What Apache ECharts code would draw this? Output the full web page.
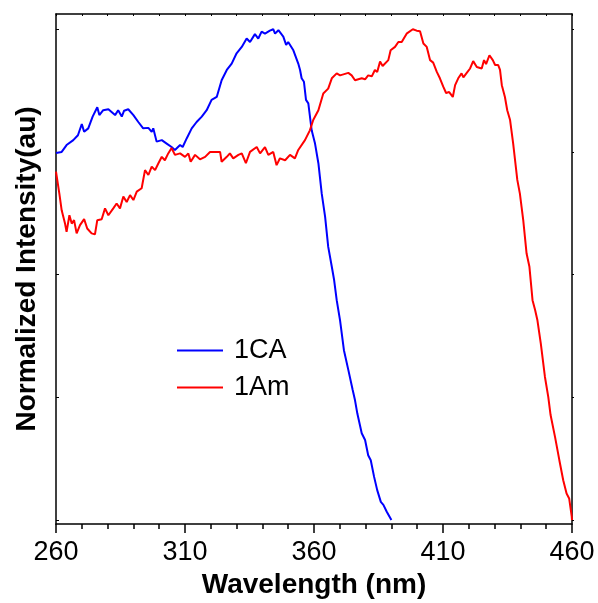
<!DOCTYPE html>
<html>
<head>
  <meta charset="utf-8" />
  <title>Normalized Intensity</title>
  <script src="https://cdn.jsdelivr.net/npm/echarts@6/dist/echarts.min.js"></script>
  <style>
    html, body { margin: 0; padding: 0; background: #fff; }
    #main { width: 598px; height: 603px; }
  </style>
</head>
<body>
<div id="main"></div>
<script>
  // wavelength (nm) / normalized intensity
  let wl1CA = [260, 262.2, 264.1, 266.7, 268.5, 270, 270.9, 272.5, 274.2, 276, 276.8, 278.3, 280.3, 282.9, 284.1, 285.5, 286.4, 288, 290, 291.9,
    293.8, 295.8, 297.1, 297.7, 299, 301, 302.9, 304.8, 306.1, 308.1, 309.1, 310.7, 312.6, 314.5, 316.5, 318.4, 320.3, 322.3, 324.2, 326.2,
    328.1, 330, 332, 333.9, 335.2, 337.1, 338.4, 339.7, 341, 342.9, 344.2, 344.9, 346.2, 348.1, 349.2, 350, 352, 353.9, 354.6, 355.2,
    356.1, 356.9, 357.8, 359.1, 360.4, 361.7, 363, 364.3, 365.5, 366.9, 367.8, 368.8, 370.1, 371.6, 373.3, 375, 375.9, 376.8, 378.5, 379.8,
    381, 382, 383.3, 384.5, 385.9, 386.9, 388.2, 390]
  let int1CA = [0.748, 0.750, 0.764, 0.774, 0.784, 0.807, 0.791, 0.798, 0.822, 0.841, 0.825, 0.835, 0.837, 0.825, 0.835, 0.822, 0.834, 0.837, 0.825, 0.811,
    0.798, 0.799, 0.791, 0.798, 0.771, 0.774, 0.767, 0.760, 0.754, 0.764, 0.760, 0.778, 0.798, 0.811, 0.822, 0.835, 0.856, 0.862, 0.896, 0.917,
    0.930, 0.951, 0.964, 0.981, 0.974, 0.990, 0.981, 0.995, 0.991, 0.997, 1.000, 0.991, 0.998, 0.985, 0.968, 0.974, 0.957, 0.930, 0.917, 0.900,
    0.893, 0.856, 0.849, 0.794, 0.767, 0.727, 0.665, 0.618, 0.557, 0.516, 0.489, 0.448, 0.407, 0.346, 0.306, 0.265, 0.244, 0.217, 0.177, 0.163,
    0.132, 0.122, 0.088, 0.061, 0.037, 0.031, 0.017, 0.0]

  let wl1Am = [260, 261.3, 262.2, 263.5, 264.1, 265.2, 266.1, 267, 268, 269.3, 270.9, 272.1, 273.8, 275.1, 276, 277.7, 279, 280.3, 282.2, 283.5,
    284.8, 286.1, 287.4, 288.7, 290, 291.3, 293.2, 294.5, 295.8, 297.1, 298.4, 299.7, 301, 302.2, 303.5, 304.8, 306.1, 308.1, 310, 311.3,
    312.2, 313.9, 315.8, 317.8, 319.7, 321.6, 323.6, 324.2, 326.2, 327.4, 328.7, 330.7, 332, 333.6, 335.2, 337.8, 339.1, 341, 342.3, 344.2,
    345.5, 346.8, 348.8, 350.7, 352.6, 353.9, 356.5, 358.4, 359.7, 361.7, 363.6, 365.5, 366.9, 368.8, 370.1, 373.3, 374.6, 375.9, 378.5, 379.8,
    381, 382.4, 383.6, 384.5, 385.6, 386.6, 388.8, 389.7, 391.4, 392.7, 394, 395.9, 398.3, 399.8, 401.1, 402.4, 403.7, 405, 406.2, 407.6,
    408.8, 410.1, 411.2, 412.4, 413.1, 413.8, 414.7, 415.9, 417.2, 417.9, 419.2, 420.5, 421.7, 423.1, 425, 425.9, 426.7, 428, 429.3, 430.2,
    431.4, 432.1, 432.8, 434, 434.9, 436, 437.2, 438.8, 439.8, 441.1, 442.4, 443.5, 444.7, 445.7, 446.6, 447.9, 449.5, 450.8, 451.7, 453.4,
    455.1, 456.6, 457.9, 458.9, 459.9, 460]
  let int1Am = [0.710, 0.665, 0.631, 0.604, 0.587, 0.621, 0.604, 0.611, 0.584, 0.601, 0.613, 0.594, 0.584, 0.582, 0.611, 0.613, 0.635, 0.621, 0.635, 0.645,
    0.635, 0.659, 0.648, 0.662, 0.652, 0.669, 0.676, 0.713, 0.703, 0.720, 0.713, 0.727, 0.740, 0.733, 0.747, 0.758, 0.744, 0.747, 0.740, 0.747,
    0.730, 0.744, 0.735, 0.740, 0.750, 0.750, 0.750, 0.730, 0.740, 0.747, 0.737, 0.744, 0.747, 0.727, 0.750, 0.760, 0.747, 0.760, 0.744, 0.750,
    0.723, 0.737, 0.733, 0.744, 0.737, 0.754, 0.774, 0.794, 0.815, 0.835, 0.869, 0.879, 0.900, 0.910, 0.906, 0.911, 0.906, 0.896, 0.900, 0.898,
    0.906, 0.904, 0.917, 0.913, 0.934, 0.925, 0.937, 0.957, 0.964, 0.974, 0.974, 0.991, 1.000, 0.997, 0.996, 0.971, 0.964, 0.937, 0.932, 0.913,
    0.900, 0.883, 0.870, 0.872, 0.869, 0.862, 0.886, 0.900, 0.910, 0.902, 0.911, 0.920, 0.935, 0.923, 0.920, 0.937, 0.929, 0.947, 0.937, 0.927,
    0.927, 0.917, 0.886, 0.862, 0.835, 0.815, 0.767, 0.693, 0.665, 0.611, 0.543, 0.516, 0.448, 0.428, 0.407, 0.360, 0.292, 0.251, 0.214, 0.170,
    0.122, 0.081, 0.054, 0.044, 0.007, 0.0]

  let yTicks = [0, 0.25, 0.5, 0.75, 1]

  let fontName = '"Liberation Sans", Arial, sans-serif'
  let axisColor = '#000'

  function zip(xs, ys) {
    let out = []
    for (let i = 0; i < xs.length; i++) {
      out.push([xs[i], ys[i]])
    }
    return out
  }

  let chart = echarts.init(document.getElementById('main'), null, { renderer: 'canvas' })

  let option = {
    animation: false,
    backgroundColor: '#fff',
    grid: { left: 56, right: 26, top: 14, bottom: 79, outerBoundsMode: 'none', containLabel: false },
    legend: {
      orient: 'vertical',
      left: 177,
      top: 337,
      padding: 0,
      icon: 'rect',
      itemWidth: 46,
      itemHeight: 2,
      itemGap: 10,
      textStyle: { fontFamily: fontName, fontSize: 27, color: '#000', lineHeight: 26, padding: [0, 0, 0, 6] },
      data: ['1CA', '1Am'],
    },
    xAxis: [
      {
        type: 'value',
        min: 260,
        max: 460,
        interval: 50,
        name: 'Wavelength (nm)',
        nameLocation: 'middle',
        nameGap: 46,
        nameTextStyle: { fontFamily: fontName, fontSize: 28, fontWeight: 'bold', color: '#000' },
        axisLine: { show: true, onZero: false, lineStyle: { color: axisColor, width: 1.5 } },
        axisTick: { show: true, inside: false, length: 9, lineStyle: { color: axisColor, width: 1.5 } },
        minorTick: { show: true, splitNumber: 5, length: 5, lineStyle: { color: axisColor, width: 1.5 } },
        axisLabel: { fontFamily: fontName, fontSize: 27, color: '#000', margin: 15 },
        splitLine: { show: false },
      },
      {
        type: 'value',
        position: 'top',
        min: 260,
        max: 460,
        interval: 50,
        axisLine: { show: true, onZero: false, lineStyle: { color: axisColor, width: 1.5 } },
        axisTick: { show: true, inside: true, length: 2, lineStyle: { color: axisColor } },
        minorTick: { show: true, splitNumber: 5, length: 2, lineStyle: { color: axisColor } },
        axisLabel: { show: false },
        splitLine: { show: false },
      },
    ],
    yAxis: [
      {
        type: 'value',
        min: -0.008,
        max: 1.031,
        name: 'Normalized Intensity(au)',
        nameLocation: 'middle',
        nameGap: 15,
        nameTextStyle: { fontFamily: fontName, fontSize: 28, fontWeight: 'bold', color: '#000' },
        axisLine: { show: true, onZero: false, lineStyle: { color: axisColor, width: 1.5 } },
        axisTick: { show: true, inside: true, length: 3, customValues: yTicks, lineStyle: { color: axisColor } },
        axisLabel: { show: false },
        splitLine: { show: false },
      },
      {
        type: 'value',
        position: 'right',
        min: -0.008,
        max: 1.031,
        axisLine: { show: true, onZero: false, lineStyle: { color: axisColor, width: 1.5 } },
        axisTick: { show: true, inside: false, length: 2, customValues: yTicks, lineStyle: { color: axisColor } },
        axisLabel: { show: false },
        splitLine: { show: false },
      },
    ],
    series: [
      {
        name: '1CA',
        type: 'line',
        symbol: 'none',
        color: '#0000ff',
        lineStyle: { width: 2, color: '#0000ff' },
        data: zip(wl1CA, int1CA),
      },
      {
        name: '1Am',
        type: 'line',
        symbol: 'none',
        color: '#ff0000',
        lineStyle: { width: 2, color: '#ff0000' },
        data: zip(wl1Am, int1Am),
      },
    ]
  }

  chart.setOption(option)
</script>
</body>
</html>
